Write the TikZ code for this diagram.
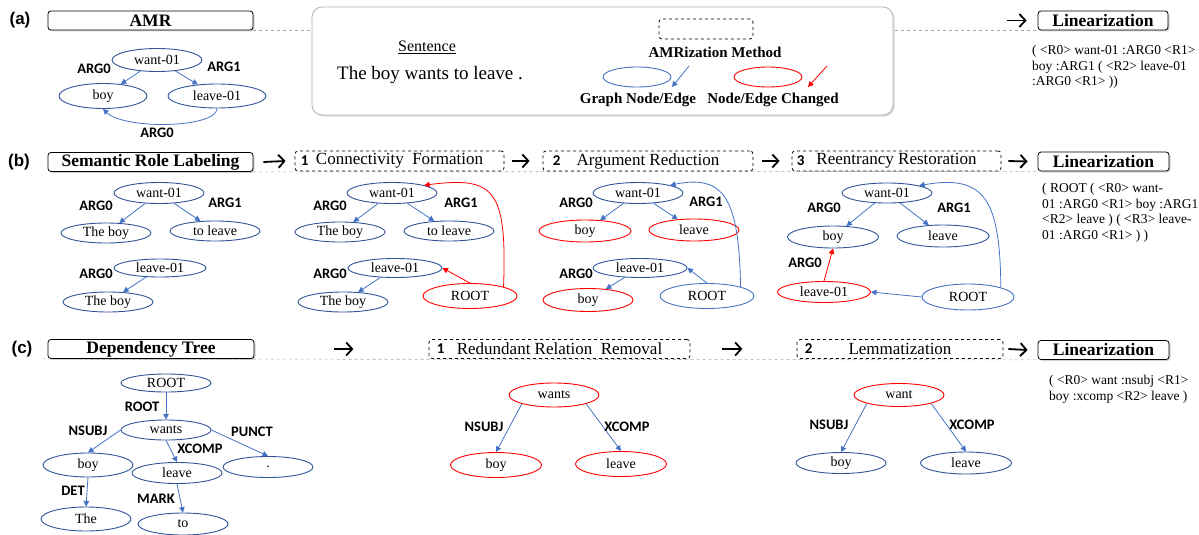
\documentclass[tikz,border=0pt]{standalone}
\usepackage{fontspec}
\setmainfont{Liberation Serif}
\newfontfamily\lblfont{Carlito}
\newfontfamily\tagfont{Liberation Sans}
\usetikzlibrary{shapes.geometric,arrows.meta,shadows,backgrounds}
\definecolor{nblue}{HTML}{2F5597}
\definecolor{eblue}{HTML}{4472C4}
\definecolor{nred}{HTML}{FF0000}
\begin{document}
\begin{tikzpicture}[x=1pt,y=-1pt,
  nd/.style={draw=nblue, line width=0.9pt, ellipse, minimum width=90pt, minimum height=21pt, inner sep=0pt, font=\fontsize{14}{16}\selectfont},
  rnd/.style={nd, draw=nred},
  edge/.style={draw=eblue, line width=0.8pt, -{Triangle[length=5.5pt,width=5.5pt]}},
  redge/.style={edge, draw=nred},
  lbl/.style={inner sep=0pt, font={\lblfont\bfseries\fontsize{14.5}{16}\selectfont}},
  hbox/.style={draw, line width=0.8pt, rounded corners=3pt, fill=white, minimum height=19pt, inner sep=0pt, font=\bfseries\fontsize{17.5}{19}\selectfont, drop shadow={shadow xshift=1.5pt, shadow yshift=-1.5pt, opacity=0.35}},
  sbox/.style={draw, dashed, line width=0.8pt, rounded corners=3pt, fill=white, minimum height=20pt, inner sep=0pt, font=\fontsize{17}{19}\selectfont},
  num/.style={font={\lblfont\bfseries\fontsize{15}{17}\selectfont}, anchor=west, inner sep=0pt},
  bigarrow/.style={line width=1.8pt, -{Straight Barb[length=6pt,width=13pt]}},
  sep/.style={draw=gray!70, dashed, line width=0.6pt},
  lin/.style={align=left, anchor=north west, inner sep=0pt, font=\fontsize{13.5}{15.5}\selectfont},
  tag/.style={font={\tagfont\bfseries\fontsize{17}{19}\selectfont}},
  legendbox/.style={draw=gray!60, line width=0.8pt, rounded corners=10pt, fill=white, drop shadow={shadow xshift=1.5pt, shadow yshift=-1.5pt, opacity=0.3}},
  legtxt/.style={font=\bfseries\fontsize{15}{17}\selectfont}
]
\useasboundingbox (0,0) rectangle (1199,535);

% ---------- tags
\node[tag] (ta) at (20,20) {(a)};
\node[tag] (tb) at (19,162) {(b)};
\node[tag] (tc) at (22,349) {(c)};

% ---------- row (a)
\node[hbox, minimum width=205pt] (amr) at (150.5,20.5) {AMR};
\node[hbox, minimum width=130pt] (lina) at (1103,20.5) {Linearization};
\draw[bigarrow] ([xshift=-31pt]lina.west) -- ([xshift=-11pt]lina.west);

\node[legendbox, minimum width=581pt, minimum height=108pt] (leg) at (602.5,61) {};
\node[font=\fontsize{16}{18}\selectfont] (sent) at (427,47) {\underline{Sentence}};
\node[font=\fontsize{19}{21}\selectfont] (sentt) at (430,75) {The boy wants to leave .};
\node[sbox, minimum width=94pt, minimum height=20pt] (mbox) at (706,29) {};
\node[legtxt] (mlab) at (715,52) {AMRization Method};
\node[draw=eblue, line width=0.9pt, ellipse, minimum width=68pt, minimum height=20pt] (gn) at (637,77) {};
\node[draw=nred, line width=0.9pt, ellipse, minimum width=68pt, minimum height=20pt] (cn) at (768,77) {};
\coordinate (ga1) at (689,66); \coordinate (ga2) at (672,87);
\coordinate (ra1) at (827,66); \coordinate (ra2) at (808,87);
\draw[edge] (ga1) -- (ga2);
\draw[redge] (ra1) -- (ra2);
\node[legtxt] (gl) at (638,100) {Graph Node/Edge};
\node[legtxt] (cl) at (773,100) {Node/Edge Changed};

\node[nd, minimum height=23pt] (a0) at (157,60) {want-01};
\node[nd, minimum width=88pt, minimum height=25pt] (a1) at (103,96) {boy};
\node[nd, minimum width=98pt, minimum height=24pt] (a2) at (217,96) {leave-01};
\draw[edge] (a0) -- (a1);
\draw[edge] (a0) -- (a2);
\draw[edge] (a2.south) .. controls (217,128) and (125,130) .. (a1.south);
\node[lbl] (la0) at (94,69) {ARG0};
\node[lbl] (la1) at (224,67) {ARG1};
\node[lbl] (la2) at (157,133) {ARG0};

\node[lin] (lta) at (1032,45) {( <R0> want-01 :ARG0 <R1>\\boy :ARG1 ( <R2> leave-01\\:ARG0 <R1> ))};

% ---------- row (b)
\node[hbox, minimum width=205pt] (srl) at (150.5,162) {Semantic Role Labeling};
\node[sbox, minimum width=209pt] (s1) at (399.5,161) {Connectivity\ \ Formation};
\node[sbox, minimum width=210pt] (s2) at (648,161) {Argument Reduction};
\node[sbox, minimum width=209pt] (s3) at (896.5,161) {Reentrancy Restoration};
\node[hbox, minimum width=131pt] (linb) at (1103.5,161.5) {Linearization};
\node[num] (n1) at ([xshift=6pt]s1.west) {1};
\node[num] (n2) at ([xshift=10pt]s2.west) {2};
\node[num] (n3) at ([xshift=5pt]s3.west) {3};
\draw[bigarrow] ([xshift=10pt]srl.east) -- ([xshift=-9pt]s1.west);
\draw[bigarrow] ([xshift=8pt]s1.east) -- ([xshift=-13pt]s2.west);
\draw[bigarrow] ([xshift=9pt]s2.east) -- ([xshift=-12pt]s3.west);
\draw[bigarrow] ([xshift=7pt]s3.east) -- ([xshift=-10pt]linb.west);

% SRL
\node[nd] (b0) at (159,193) {want-01};
\node[nd, minimum height=20pt] (b1) at (106,233) {The boy};
\node[nd, minimum height=20pt] (b2) at (215,231) {to leave};
\node[nd, minimum width=92pt, minimum height=18pt] (b3) at (160,268) {leave-01};
\node[nd, minimum height=20pt] (b4) at (108,302) {The boy};
\draw[edge] (b0) -- (b1);
\draw[edge] (b0) -- (b2);
\draw[edge] (b3) -- (b4);
\node[lbl] (lb0) at (96,206) {ARG0};
\node[lbl] (lb1) at (225,203) {ARG1};
\node[lbl] (lb2) at (96,274) {ARG0};

% step 1
\node[nd] (c0) at (392,193) {want-01};
\node[nd, minimum height=20pt] (c1) at (340,232) {The boy};
\node[nd, minimum height=20pt] (c2) at (449,231) {to leave};
\node[nd, minimum width=94pt, minimum height=19pt] (c3) at (395,268) {leave-01};
\node[nd, minimum height=20pt] (c4) at (343,302) {The boy};
\node[rnd, minimum width=94pt, minimum height=25pt] (c5) at (470,296) {ROOT};
\draw[edge] (c0) -- (c1);
\draw[edge] (c0) -- (c2);
\draw[edge] (c3) -- (c4);
\draw[redge] (c5.north) -- (c3.east);
\draw[redge] (c5.north east) .. controls (507,190) and (495,176) .. (c0.north east);
\node[lbl] (lc0) at (330,206) {ARG0};
\node[lbl] (lc1) at (461,203) {ARG1};
\node[lbl] (lc2) at (330,274) {ARG0};

% step 2
\node[nd] (d0) at (638,193) {want-01};
\node[rnd, minimum width=92pt, minimum height=22pt] (d1) at (585,231) {boy};
\node[rnd, minimum height=22pt] (d2) at (694,230) {leave};
\node[nd, minimum width=94pt, minimum height=19pt] (d3) at (640,268) {leave-01};
\node[rnd, minimum height=23pt] (d4) at (588,300) {boy};
\node[nd, draw=eblue, minimum width=94pt, minimum height=25pt] (d5) at (707,296) {ROOT};
\draw[edge] (d0) -- (d1);
\draw[edge] (d0) -- (d2);
\draw[edge] (d3) -- (d4);
\draw[edge] (d5.north) -- (d3.east);
\draw[edge] (d5.north east) .. controls (739,200) and (725,174) .. (d0.north east);
\node[lbl] (ld0) at (576,203) {ARG0};
\node[lbl] (ld1) at (706,202) {ARG1};
\node[lbl] (ld2) at (576,274) {ARG0};

% step 3
\node[nd, minimum height=20pt] (e0) at (887,193) {want-01};
\node[nd, minimum width=91pt, minimum height=22pt] (e1) at (833,237) {boy};
\node[nd, minimum width=92pt, minimum height=22pt] (e2) at (943,236) {leave};
\node[rnd, minimum width=93pt, minimum height=21pt] (e3) at (824,292) {leave-01};
\node[nd, draw=eblue, minimum width=92pt, minimum height=26pt] (e4) at (968,297) {ROOT};
\draw[edge] (e0) -- (e1);
\draw[edge] (e0) -- (e2);
\draw[redge] (e3.north) -- (e1.south);
\draw[edge] (e4.west) -- (e3.east);
\draw[edge] (e4.north east) .. controls (1000,200) and (985,174) .. (e0.north east);
\node[lbl] (le0) at (824,208) {ARG0};
\node[lbl] (le1) at (954,208) {ARG1};
\node[lbl] (le2) at (805,263) {ARG0};

\node[lin] (ltb) at (1042,183) {( ROOT ( <R0> want-\\01 :ARG0 <R1> boy :ARG1\\<R2> leave ) ( <R3> leave-\\01 :ARG0 <R1> ) )};

% ---------- row (c)
\node[hbox, minimum width=206pt] (dt) at (151,349) {Dependency Tree};
\node[sbox, minimum width=261pt, minimum height=19pt] (r1) at (559.5,349) {Redundant Relation\ \ Removal};
\node[sbox, minimum width=206pt, minimum height=19pt] (r2) at (900,349) {Lemmatization};
\node[hbox, minimum width=131pt] (linc) at (1103.5,350) {Linearization};
\node[num] (m1) at ([xshift=8pt]r1.west) {1};
\node[num] (m2) at ([xshift=8pt]r2.west) {2};
\draw[bigarrow] ([xshift=80pt]dt.east) -- ([xshift=99pt]dt.east);
\draw[bigarrow] ([xshift=32pt]r1.east) -- ([xshift=52pt]r1.east);
\draw[bigarrow] ([xshift=5pt]r2.east) -- ([xshift=-10pt]linc.west);

% dependency tree
\node[nd, minimum height=18pt] (f0) at (166,383) {ROOT};
\node[nd, minimum height=20pt] (f1) at (166,430) {wants};
\node[nd, minimum height=24pt] (f2) at (88,465) {boy};
\node[nd] (f3) at (177,473) {leave};
\node[nd] (f4) at (268,467) {.};
\node[nd, minimum height=24pt] (f5) at (86,519) {The};
\node[nd, minimum height=22pt] (f6) at (183,524) {to};
\draw[edge] (f0) -- (f1);
\draw[edge] (f1.west) -- (f2.north);
\draw[edge] (f1.south) -- (f3.north);
\draw[edge] (f1.east) -- (f4.north);
\draw[edge] (f2.south) -- (f5.north);
\draw[edge] (f3.south) -- (f6.north);
\node[lbl] (lf0) at (142,407) {ROOT};
\node[lbl] (lf1) at (88,431) {NSUBJ};
\node[lbl] (lf2) at (200,449) {XCOMP};
\node[lbl] (lf3) at (252,432) {PUNCT};
\node[lbl] (lf4) at (73,491) {DET};
\node[lbl] (lf5) at (156,499) {MARK};

% redundant relation removal
\node[rnd, minimum height=24pt] (g0) at (554,395) {wants};
\node[rnd, minimum width=91pt, minimum height=25pt] (g1) at (496,465) {boy};
\node[rnd, minimum width=91pt, minimum height=25pt] (g2) at (621,464) {leave};
\draw[edge] (g0.south west) -- (g1.north);
\draw[edge] (g0.south east) -- (g2.north);
\node[lbl] (lg1) at (484,427) {NSUBJ};
\node[lbl] (lg2) at (627,427) {XCOMP};

% lemmatization
\node[rnd, minimum height=23pt] (h0) at (899,395) {want};
\node[nd] (h1) at (841,463) {boy};
\node[nd, minimum width=91pt, minimum height=22pt] (h2) at (966,463) {leave};
\draw[edge] (h0.south west) -- (h1.north);
\draw[edge] (h0.south east) -- (h2.north);
\node[lbl] (lh1) at (829,425) {NSUBJ};
\node[lbl] (lh2) at (972,425) {XCOMP};

\node[lin] (ltc) at (1049,375) {( <R0> want :nsubj <R1>\\boy :xcomp <R2> leave )};

% ---------- separator lines
\begin{pgfonlayer}{background}
\draw[sep] (amr.south east) -- (lina.south west);
\draw[sep] (srl.south east) -- (linb.south west);
\draw[sep] ([xshift=-5pt]dt.south west) -- (linc.south west);
\end{pgfonlayer}
\end{tikzpicture}
\end{document}
